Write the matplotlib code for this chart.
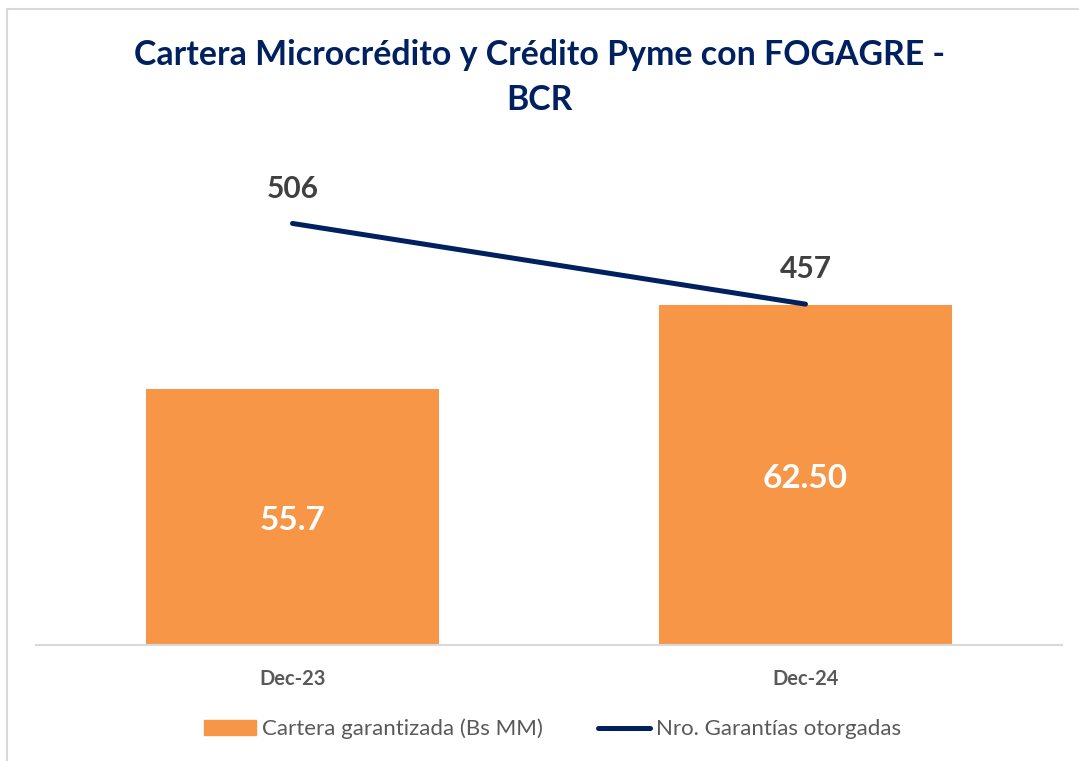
import numpy as np
import matplotlib.pyplot as plt
from matplotlib.patches import Rectangle
from matplotlib.lines import Line2D

plt.rcParams['font.family'] = ['Lato', 'DejaVu Sans']

categorias = ['Dec-23', 'Dec-24']
cartera = [55.7, 62.50]
cartera_txt = ['55.7', '62.50']
garantias = [506, 457]

naranja = '#F79646'
azul = '#002060'
gris = '#595959'

fig = plt.figure(figsize=(10.79, 7.61), dpi=100)
ax = fig.add_axes([0.0334, 0.1524, 0.9508, 0.6492])
x = np.arange(len(categorias))

ax.bar(x, cartera, width=0.57, color=naranja, zorder=2)
ax.set_ylim(35, 75)
ax.set_xlim(-0.5, 1.5)
for xi, v, t in zip(x, cartera, cartera_txt):
    ax.text(xi, (35 + v) / 2 - 0.3, t, ha='center', va='center', color='white',
            fontsize=24, fontweight='bold')

for s in ['top', 'left', 'right']:
    ax.spines[s].set_visible(False)
ax.spines['bottom'].set_color('#D9D9D9')
ax.spines['bottom'].set_linewidth(1.5)
ax.set_yticks([])
ax.set_xticks(x)
ax.set_xticklabels(categorias, fontsize=14.5, fontweight='bold', color=gris)
ax.tick_params(axis='x', length=0, pad=17)

ax2 = ax.twinx()
ax2.plot(x, garantias, color=azul, lw=3.6, solid_capstyle='round', zorder=3)
ax2.set_ylim(250, 550)
ax2.set_yticks([])
for s in ax2.spines.values():
    s.set_visible(False)
for xi, v in zip(x, garantias):
    ax2.annotate(str(v), (xi, v), xytext=(0, 25), textcoords='offset points',
                 ha='center', va='center', fontsize=21.5, fontweight='bold',
                 color='#404040')

fig.text(0.5, 0.898, 'Cartera Microcrédito y Crédito Pyme con FOGAGRE -\nBCR',
         ha='center', va='center', fontsize=24.4, fontweight='bold', color=azul,
         linespacing=1.48)

handles = [Rectangle((0, 0), 1, 1, color=naranja),
           Line2D([], [], color=azul, lw=3.6, solid_capstyle='round')]
fig.legend(handles, ['Cartera garantizada (Bs MM)', 'Nro. Garantías otorgadas'],
           loc='center', bbox_to_anchor=(0.512, 0.042), ncol=2, frameon=False,
           fontsize=16, labelcolor=gris, handlelength=2.34, handletextpad=0.27,
           columnspacing=2.5)

fig.add_artist(Rectangle((7 / 1079, -0.05), 1.1, (761 - 9) / 761 + 0.05,
                         transform=fig.transFigure, fill=False,
                         edgecolor='#D9D9D9', lw=1.5))

fig.savefig('out.png', dpi=100)
